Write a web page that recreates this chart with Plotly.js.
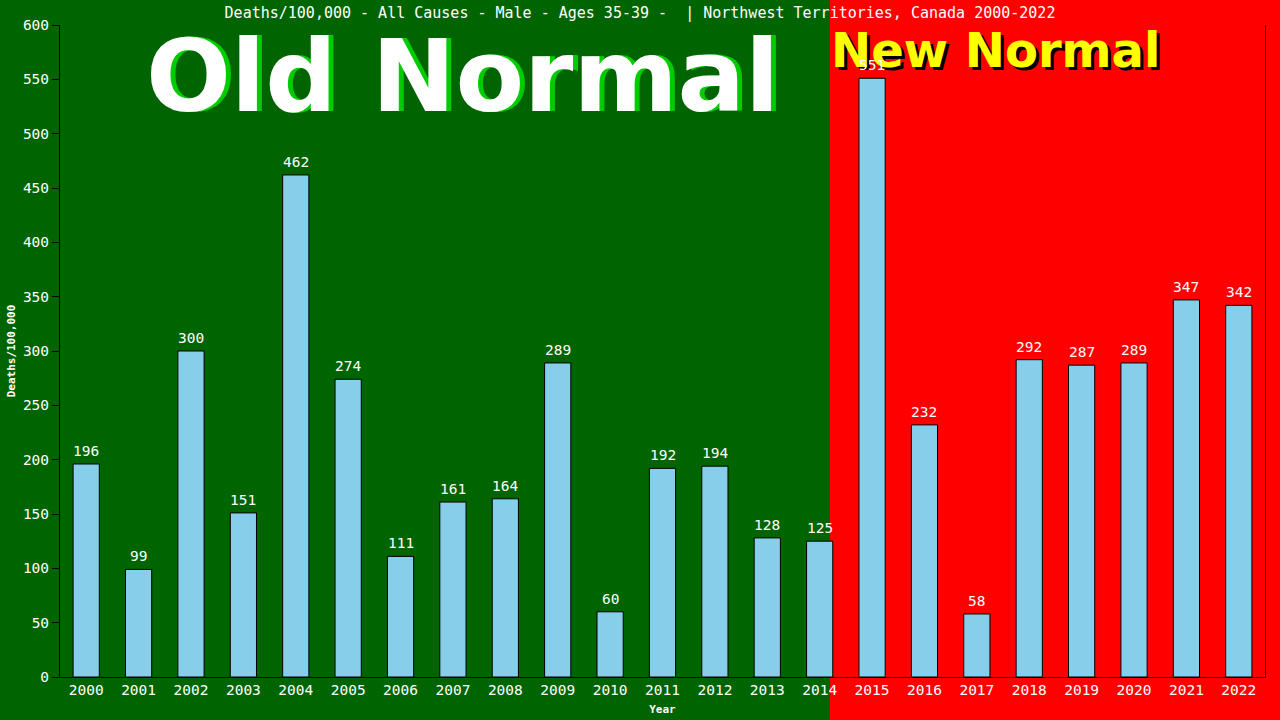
<!DOCTYPE html>
<html>
<head>
<meta charset="utf-8">
<script src="https://cdn.plot.ly/plotly-3.0.1.min.js"></script>
<style>
  html, body { margin: 0; padding: 0; background: #006400; }
  #chart { width: 1280px; height: 720px; }
</style>
</head>
<body>
<div id="chart"></div>
<script>
// values
var years = ['2000','2001','2002','2003','2004','2005','2006','2007','2008','2009','2010','2011',
             '2012','2013','2014','2015','2016','2017','2018','2019','2020','2021','2022'];
var deaths = [196, 99, 300, 151, 462, 274, 111, 161, 164, 289, 60, 192,
              194, 128, 125, 551, 232, 58, 292, 287, 289, 347, 342];
var yTicks = [0, 50, 100, 150, 200, 250, 300, 350, 400, 450, 500, 550, 600];

var mono = 'DejaVu Sans Mono, Liberation Mono, monospace';

var trace = {
  type: 'bar',
  x: years,
  y: deaths,
  marker: { color: '#87CEEB', line: { color: '#000', width: 1 } },
  hoverinfo: 'none'
};

// value labels above each bar (x given as category index)
var labels = years.map(function (yr, i) {
  return {
    x: i, y: deaths[i], xref: 'x', yref: 'y',
    text: String(deaths[i]), showarrow: false,
    xanchor: 'center', yanchor: 'bottom', yshift: 3,
    font: { family: mono, size: 14.5, color: '#fff' }
  };
});

// plot area is 60..1265 x 25..677 in px
function px(x) { return (x - 60) / 1205; }
function py(y) { return (677 - y) / 652; }

var bigFont = 'DejaVu Sans, sans-serif';
var banners = [
  { text: '<b>Old Normal</b>', x: px(467), y: py(77), font: { family: bigFont, size: 100, color: '#00CC00' } },
  { text: '<b>Old Normal</b>', x: px(462), y: py(76), font: { family: bigFont, size: 100, color: '#fff' } },
  { text: '<b>New Normal</b>', x: px(998), y: py(53), font: { family: bigFont, size: 48, color: '#000' } },
  { text: '<b>New Normal</b>', x: px(995), y: py(50), font: { family: bigFont, size: 48, color: '#FFFF00' } }
].map(function (a) {
  return { text: a.text, x: a.x, y: a.y, xref: 'paper', yref: 'paper',
           showarrow: false, xanchor: 'center', yanchor: 'middle', font: a.font };
});

var layout = {
  width: 1280, height: 720,
  margin: { l: 60, r: 15, t: 25, b: 43 },
  paper_bgcolor: '#006400',
  plot_bgcolor: 'rgba(0,0,0,0)',
  bargap: 0.5,
  showlegend: false,
  title: {
    text: 'Deaths/100,000 - All Causes - Male - Ages 35-39 -  | Northwest Territories, Canada 2000-2022',
    font: { family: mono, size: 15, color: '#fff' },
    x: 0.5, xanchor: 'center', y: 1 - 13 / 720, yanchor: 'middle'
  },
  xaxis: {
    type: 'category',
    categoryorder: 'array', categoryarray: years,
    range: [-0.5, years.length - 0.5],
    showline: true, linecolor: '#000', linewidth: 1,
    ticks: '', showgrid: false, zeroline: false,
    tickfont: { family: mono, size: 14.5, color: '#fff' },
    title: { text: '<b>Year</b>', font: { family: mono, size: 11, color: '#fff' }, standoff: 7 }
  },
  yaxis: {
    range: [0, 600],
    tickvals: yTicks,
    showline: true, linecolor: '#000', linewidth: 1, mirror: true,
    ticks: 'outside', ticklen: 7, tickcolor: '#000',
    showgrid: false, zeroline: false,
    tickfont: { family: mono, size: 14.5, color: '#fff' },
    title: { text: '<b>Deaths/100,000</b>', font: { family: mono, size: 11, color: '#fff' }, standoff: 5 }
  },
  shapes: [{
    type: 'rect', xref: 'paper', yref: 'paper', layer: 'below',
    x0: px(830), x1: px(1290), y0: py(730), y1: py(-10),
    fillcolor: '#FF0000', line: { width: 0 }
  }],
  annotations: banners.concat(labels)
};

Plotly.newPlot('chart', [trace], layout, { staticPlot: true, displayModeBar: false });
</script>
</body>
</html>
